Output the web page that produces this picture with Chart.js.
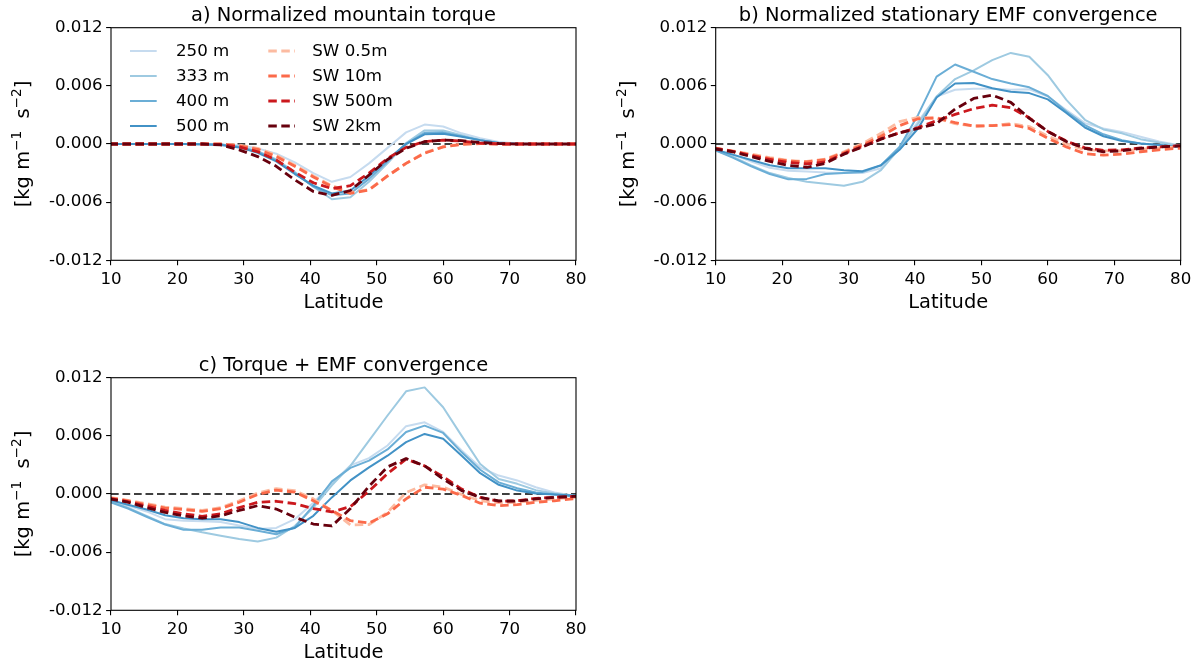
<!DOCTYPE html>
<html>
<head>
<meta charset="utf-8">
<script src="https://cdn.jsdelivr.net/npm/chart.js@4.4.1/dist/chart.umd.min.js"></script>
<style>
  body { margin: 0; background: #fff; width: 1204px; height: 665px; overflow: hidden; }
  canvas { position: absolute; }
</style>
</head>
<body>
<canvas id="chart-a" width="600" height="330" style="left:0;top:0"></canvas>
<canvas id="chart-b" width="600" height="330" style="left:604px;top:0"></canvas>
<canvas id="chart-c" width="600" height="315" style="left:0;top:350px"></canvas>
<script>
// latitudes of the model grid (deg N)
const LAT = [9.77, 12.56, 15.35, 18.14, 20.93, 23.72, 26.51, 29.30, 32.09, 34.88, 37.67, 40.46, 43.25,
  46.04, 48.84, 51.63, 54.42, 57.21, 60.00, 62.79, 65.58, 68.37, 71.16, 73.95, 76.74, 79.53, 82.32];
const X_TICKS = [10, 20, 30, 40, 50, 60, 70, 80];
const Y_TICKS = [-0.012, -0.006, 0, 0.006, 0.012];
const UNIT = 1e-3; // series below are in units of 1e-3 kg m-1 s-2

const SERIES_NAMES = ['250 m', '333 m', '400 m', '500 m', 'SW 0.5m', 'SW 10m', 'SW 500m', 'SW 2km'];
const SERIES_COLORS = ['#c6dbef', '#9ecae1', '#6baed6', '#4292c6', '#fcbba1', '#fb6a4a', '#cb181d', '#67000d'];

// a) normalized mountain torque
const A_250 = [0, 0, 0, 0, 0, 0, -0.05, -0.15, -0.45, -1.0, -1.9, -3.0, -3.9, -3.4, -2.0, -0.4, 1.2, 2.0, 1.8, 1.1, 0.6, 0.2, 0.05, 0, 0, 0, 0];
const A_333 = [0, 0, 0, 0, 0, 0, -0.05, -0.25, -0.75, -1.6, -2.9, -4.4, -5.7, -5.5, -3.9, -2.0, 0.1, 1.4, 1.4, 0.9, 0.4, 0.1, 0, 0, 0, 0, 0];
const A_400 = [0, 0, 0, 0, 0, 0, -0.05, -0.3, -0.8, -1.7, -3.0, -4.4, -5.3, -5.1, -3.6, -1.8, 0.0, 1.15, 1.2, 0.8, 0.4, 0.1, 0, 0, 0, 0, 0];
const A_500 = [0, 0, 0, 0, 0, -0.05, -0.1, -0.35, -0.9, -1.8, -3.1, -4.3, -5.1, -4.8, -3.3, -1.6, 0.0, 1.0, 1.05, 0.75, 0.4, 0.1, 0, 0, 0, 0, 0];
const A_SW05 = [0, 0, 0, 0, 0, 0, 0, -0.1, -0.45, -1.15, -2.2, -3.3, -4.3, -5.0, -4.7, -3.3, -2.0, -0.9, -0.3, 0, 0.05, 0, 0, 0, 0, 0, 0];
const A_SW10 = [0, 0, 0, 0, 0, 0, 0, -0.2, -0.55, -1.3, -2.3, -3.4, -4.4, -5.1, -4.75, -3.3, -2.0, -0.95, -0.3, -0.05, 0.05, 0, 0, 0, 0, 0, 0];
const A_SW500 = [0, 0, 0, 0, 0, 0, -0.05, -0.3, -0.8, -1.65, -2.9, -4.0, -4.6, -4.3, -3.0, -1.5, -0.35, 0.25, 0.4, 0.3, 0.1, 0, 0, 0, 0, 0, 0];
const A_SW2K = [0, 0, 0, 0, 0, 0, -0.1, -0.6, -1.3, -2.3, -3.7, -4.9, -5.3, -4.8, -3.2, -1.6, -0.45, 0.25, 0.4, 0.35, 0.15, 0.05, 0, 0, 0, 0, 0];

// b) normalized stationary EMF convergence
const B_250 = [-0.55, -1.1, -1.8, -2.45, -2.75, -2.85, -2.95, -3.0, -3.0, -2.5, -0.3, 2.3, 4.9, 5.6, 5.7, 5.7, 5.6, 5.65, 4.9, 3.5, 2.15, 1.6, 1.25, 0.75, 0.25, -0.1, -0.3];
const B_333 = [-0.6, -1.3, -2.2, -3.0, -3.5, -3.9, -4.1, -4.3, -3.9, -2.7, -0.45, 2.1, 4.9, 6.7, 7.6, 8.65, 9.4, 9.0, 7.1, 4.55, 2.5, 1.5, 1.1, 0.5, 0.15, -0.15, -0.3];
const B_400 = [-0.6, -1.4, -2.3, -3.1, -3.65, -3.6, -3.1, -3.0, -2.9, -2.2, -0.3, 3.0, 6.95, 8.2, 7.45, 6.7, 6.25, 5.85, 4.95, 3.35, 1.95, 1.0, 0.4, 0.05, -0.1, -0.3, -0.4];
const B_500 = [-0.55, -1.1, -1.65, -2.2, -2.5, -2.5, -2.5, -2.7, -2.8, -2.2, -0.6, 1.6, 4.8, 6.25, 6.3, 5.75, 5.4, 5.25, 4.6, 3.2, 1.7, 0.8, 0.3, 0.05, -0.1, -0.3, -0.4];
const B_SW05 = [-0.45, -0.7, -1.05, -1.4, -1.7, -1.8, -1.55, -0.8, 0.05, 1.1, 2.3, 2.75, 2.65, 2.1, 1.85, 1.9, 2.1, 1.8, 0.8, 0.0, -0.6, -0.7, -0.7, -0.55, -0.4, -0.3, -0.25];
const B_SW10 = [-0.4, -0.75, -1.15, -1.5, -1.75, -1.85, -1.6, -0.9, -0.1, 0.8, 1.9, 2.6, 2.7, 2.2, 1.85, 1.9, 2.0, 1.6, 0.6, -0.3, -1.0, -1.15, -1.05, -0.8, -0.6, -0.45, -0.4];
const B_SW500 = [-0.45, -0.75, -1.2, -1.6, -1.9, -2.05, -1.85, -1.0, -0.25, 0.55, 1.15, 1.7, 2.4, 3.05, 3.65, 4.0, 3.75, 2.7, 1.3, 0.3, -0.4, -0.65, -0.6, -0.4, -0.3, -0.2, -0.15];
const B_SW2K = [-0.5, -0.8, -1.3, -1.8, -2.2, -2.4, -2.0, -1.05, -0.3, 0.5, 1.15, 1.6, 2.1, 3.6, 4.7, 5.05, 4.3, 2.65, 1.3, 0.25, -0.45, -0.8, -0.7, -0.45, -0.3, -0.2, -0.15];

// c) torque + EMF convergence
const C_250 = [-0.6, -1.2, -1.8, -2.6, -2.75, -2.8, -2.9, -3.25, -3.6, -3.5, -2.6, -0.9, 1.1, 2.95, 3.7, 5.0, 7.0, 7.4, 6.4, 4.5, 2.75, 1.9, 1.4, 0.7, 0.15, -0.15, -0.3];
const C_333 = [-0.7, -1.4, -2.25, -3.1, -3.55, -3.95, -4.3, -4.65, -4.9, -4.5, -3.3, -1.4, 0.9, 2.9, 5.5, 8.1, 10.6, 11.0, 8.95, 6.0, 3.1, 1.55, 1.05, 0.4, 0.05, -0.15, -0.3];
const C_400 = [-0.8, -1.5, -2.35, -3.15, -3.7, -3.7, -3.45, -3.45, -3.8, -4.15, -3.45, -1.2, 1.3, 2.7, 3.45, 4.6, 6.4, 7.05, 6.3, 4.3, 2.5, 1.2, 0.6, 0.15, -0.05, -0.25, -0.35];
const C_500 = [-0.6, -1.1, -1.6, -2.2, -2.5, -2.6, -2.6, -2.9, -3.5, -3.9, -3.5, -2.25, -0.35, 1.4, 2.75, 3.95, 5.35, 6.2, 5.7, 3.95, 2.15, 0.95, 0.35, 0.05, -0.05, -0.15, -0.25];
const C_SW05 = [-0.35, -0.65, -1.0, -1.35, -1.5, -1.7, -1.4, -0.7, 0.1, 0.55, 0.35, -0.5, -1.7, -3.2, -3.15, -1.9, 0.15, 0.95, 0.7, -0.05, -0.7, -0.9, -0.85, -0.65, -0.5, -0.35, -0.3];
const C_SW10 = [-0.4, -0.7, -1.1, -1.45, -1.6, -1.8, -1.5, -0.85, -0.05, 0.4, 0.2, -0.7, -1.7, -2.75, -3.0, -2.05, -0.5, 0.7, 0.5, -0.15, -0.95, -1.2, -1.1, -0.85, -0.7, -0.5, -0.4];
const C_SW500 = [-0.45, -0.8, -1.25, -1.7, -2.05, -2.3, -2.05, -1.4, -0.85, -0.75, -1.0, -1.5, -1.85, -1.3, 0.3, 2.1, 3.6, 2.9, 1.8, 0.5, -0.35, -0.75, -0.7, -0.45, -0.35, -0.25, -0.2];
const C_SW2K = [-0.5, -0.85, -1.4, -1.9, -2.25, -2.5, -2.25, -1.7, -1.2, -1.55, -2.4, -3.1, -3.3, -1.5, 0.8, 2.8, 3.65, 2.9, 1.55, 0.35, -0.35, -0.7, -0.75, -0.5, -0.35, -0.25, -0.2];

const FONT = 'DejaVu Sans';
const TICK_SIZE = 16.67;
const LABEL_SIZE = 19.44;

function formatTick(v) {
  return v.toFixed(3).replace('-0.000', '0.000');
}

function makeDatasets(values) {
  return values.map((vals, i) => ({
    label: SERIES_NAMES[i],
    data: LAT.map((lat, k) => ({ x: lat, y: vals[k] * UNIT })),
    borderColor: SERIES_COLORS[i],
    borderWidth: i < 4 ? 2 : 2.8,
    borderDash: i < 4 ? [] : [8.5, 4.5],
    borderJoinStyle: 'round',
    pointRadius: 0,
    tension: 0,
    fill: false,
    order: 8 - i, // later series on top, as in the original
  }));
}

function drawYLabel(ctx, cx, cy) {
  const parts = [
    { t: '[kg m', sup: false },
    { t: '\u22121', sup: true },
    { t: '  s', sup: false },
    { t: '\u22122', sup: true },
    { t: ']', sup: false },
  ];
  const big = `${LABEL_SIZE}px "${FONT}"`;
  const small = `${LABEL_SIZE * 0.7}px "${FONT}"`;
  let total = 0;
  for (const p of parts) {
    ctx.font = p.sup ? small : big;
    p.w = ctx.measureText(p.t).width;
    total += p.w;
  }
  ctx.save();
  ctx.translate(cx, cy);
  ctx.rotate(-Math.PI / 2);
  ctx.fillStyle = '#000';
  ctx.textBaseline = 'alphabetic';
  ctx.textAlign = 'left';
  let x = -total / 2;
  for (const p of parts) {
    ctx.font = p.sup ? small : big;
    ctx.fillText(p.t, x, p.sup ? 7 - LABEL_SIZE * 0.42 : 7);
    x += p.w;
  }
  ctx.restore();
}

const decorPlugin = {
  id: 'decor',
  beforeDatasetsDraw(chart) {
    const { ctx, chartArea } = chart;
    const y0 = chart.scales.y.getPixelForValue(0);
    ctx.save();
    ctx.strokeStyle = '#000';
    ctx.lineWidth = 1.3;
    ctx.setLineDash([7.7, 3.8]);
    ctx.beginPath();
    ctx.moveTo(chartArea.left, y0);
    ctx.lineTo(chartArea.right, y0);
    ctx.stroke();
    ctx.restore();
  },
  afterDraw(chart) {
    const { ctx, chartArea } = chart;
    const opts = chart.options.plugins.decor;
    const cx = (chartArea.left + chartArea.right) / 2;
    ctx.save();
    ctx.strokeStyle = '#000';
    ctx.lineWidth = 1.1;
    ctx.strokeRect(chartArea.left, chartArea.top, chartArea.right - chartArea.left, chartArea.bottom - chartArea.top);

    ctx.fillStyle = '#000';
    ctx.textAlign = 'center';
    ctx.textBaseline = 'alphabetic';
    ctx.font = `${LABEL_SIZE}px "${FONT}"`;
    ctx.fillText(opts.title, cx, chartArea.top - 6.5);
    ctx.fillText('Latitude', cx, chartArea.bottom + 47.5);
    drawYLabel(ctx, chartArea.left - 89, (chartArea.top + chartArea.bottom) / 2);

    if (opts.legend) {
      const rowY = [51, 76, 101, 126];
      const handleX = [130, 268.3];
      const textX = [176, 312.3];
      ctx.font = `${TICK_SIZE}px "${FONT}"`;
      ctx.textAlign = 'left';
      ctx.textBaseline = 'middle';
      chart.data.datasets.forEach((ds, i) => {
        const col = i < 4 ? 0 : 1;
        const y = rowY[i % 4];
        ctx.strokeStyle = ds.borderColor;
        ctx.lineWidth = ds.borderWidth;
        ctx.setLineDash(ds.borderDash);
        ctx.beginPath();
        ctx.moveTo(handleX[col], y);
        ctx.lineTo(handleX[col] + 26.7, y);
        ctx.stroke();
        ctx.setLineDash([]);
        ctx.fillText(ds.label, textX[col], y + 1);
      });
    }
    ctx.restore();
  },
};

const PANELS = [
  { id: 'chart-a', title: 'a) Normalized mountain torque', legend: true,
    values: [A_250, A_333, A_400, A_500, A_SW05, A_SW10, A_SW500, A_SW2K],
    area: { left: 111, top: 27.7, right: 576, bottom: 260.3 } },
  { id: 'chart-b', title: 'b) Normalized stationary EMF convergence', legend: false,
    values: [B_250, B_333, B_400, B_500, B_SW05, B_SW10, B_SW500, B_SW2K],
    area: { left: 111.7, top: 27.7, right: 576.7, bottom: 260.3 } },
  { id: 'chart-c', title: 'c) Torque + EMF convergence', legend: false,
    values: [C_250, C_333, C_400, C_500, C_SW05, C_SW10, C_SW500, C_SW2K],
    area: { left: 111, top: 27.7, right: 576, bottom: 260.3 } },
];

function buildPanel(panel) {
  const canvas = document.getElementById(panel.id);
  const { area } = panel;
  const tickFont = { family: FONT, size: TICK_SIZE };
  const axisGrid = { display: true, drawOnChartArea: false, drawTicks: true, tickLength: 4.9, color: '#000', lineWidth: 1.1 };
  return new Chart(canvas, {
    type: 'line',
    data: { datasets: makeDatasets(panel.values) },
    options: {
      responsive: false,
      animation: false,
      devicePixelRatio: 1,
      layout: { padding: { left: 0, top: area.top, right: canvas.width - area.right, bottom: 0 } },
      plugins: {
        legend: { display: false },
        tooltip: { enabled: false },
        decor: { title: panel.title, legend: panel.legend },
      },
      scales: {
        x: {
          type: 'linear',
          min: 10,
          max: 80,
          grid: axisGrid,
          border: { display: false },
          ticks: { color: '#000', font: tickFont, padding: 4, maxRotation: 0, callback: (v) => String(v) },
          afterBuildTicks: (scale) => { scale.ticks = X_TICKS.map((value) => ({ value })); },
          afterFit: (scale) => { scale.height = canvas.height - area.bottom; },
        },
        y: {
          type: 'linear',
          min: -0.012,
          max: 0.012,
          grid: axisGrid,
          border: { display: false },
          ticks: { color: '#000', font: tickFont, padding: 3.5, callback: (v) => formatTick(v) },
          afterBuildTicks: (scale) => { scale.ticks = Y_TICKS.map((value) => ({ value })); },
          afterFit: (scale) => { scale.width = area.left; },
        },
      },
    },
    plugins: [decorPlugin],
  });
}

PANELS.forEach(buildPanel);
</script>
</body>
</html>
